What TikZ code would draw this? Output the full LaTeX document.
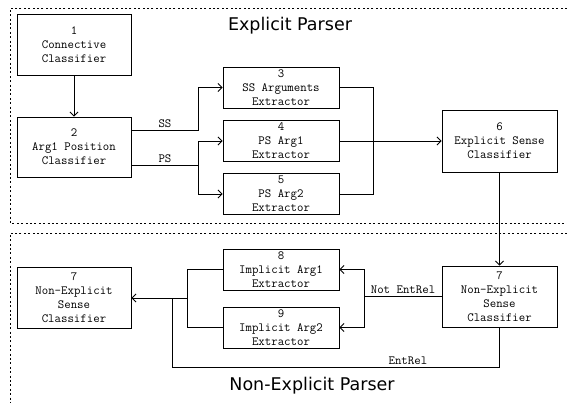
\documentclass[tikz,border=0pt]{standalone}
\usepackage{fontspec}
\newfontfamily\titlefont{DejaVu Sans}
\usepackage{tikz}
\usetikzlibrary{calc}
\usetikzlibrary{arrows.meta}
\usetikzlibrary{positioning}

\tikzset{
  box/.style={draw, line width=0.9pt, inner sep=0pt, align=center,
    font=\fontsize{12.5}{14}\selectfont\ttfamily},
  lbl/.style={font=\fontsize{12.5}{14}\selectfont\ttfamily, inner sep=2pt},
  ptitle/.style={font=\titlefont\fontsize{17.5}{20}\selectfont},
  frame/.style={line width=0.7pt, dash pattern=on 2pt off 2.4pt},
}

\begin{document}
\begin{tikzpicture}[x=1pt, y=-1pt, line cap=butt, line join=miter, >={Straight Barb[length=4pt,width=8pt]}, line width=0.9pt]
  \useasboundingbox (0,0) rectangle (567,403);
  %--- frames
    \draw[frame] (567,8) -- (10,8) -- (10,223) -- (567,223);
    \draw[frame] (567,233) -- (10,233) -- (10,403);
    \node[ptitle] (explicit) at (290,26) {Explicit Parser};
    \node[ptitle] (nonexplicit) at (312,386) {Non-Explicit Parser};
  %--- explicit parser boxes
    \node[box, minimum width=114, minimum height=61] (conn) at (74,44.5) {1\\Connective\\Classifier};
    \node[box, minimum width=114, minimum height=60] (argpos) at (74,147) {2\\Arg1 Position\\Classifier};
    \node[box, minimum width=116, minimum height=41] (ssarg) at (281,87.5) {3\\SS Arguments\\Extractor};
    \node[box, minimum width=116, minimum height=41] (psarg1) at (281,141) {4\\PS Arg1\\Extractor};
    \node[box, minimum width=116, minimum height=41] (psarg2) at (281,194) {5\\PS Arg2\\Extractor};
    \node[box, minimum width=115, minimum height=62] (expsense) at (499.5,141) {6\\Explicit Sense\\Classifier};
  %--- non-explicit parser boxes
    \node[box, minimum width=115, minimum height=61] (nonexp) at (499.5,296.5) {7\\Non-Explicit\\Sense\\Classifier};
    \node[box, minimum width=116, minimum height=41] (impl1) at (281,269.5) {8\\Implicit Arg1\\Extractor};
    \node[box, minimum width=116, minimum height=41] (impl2) at (281,327.5) {9\\Implicit Arg2\\Extractor};
    \node[box, minimum width=114, minimum height=61] (nonexpout) at (74,298) {7\\Non-Explicit\\Sense\\Classifier};
  %--- 1 -> 2
    \draw[->] (conn) -- (argpos);
  %--- SS
    \draw[->] ([yshift=17pt]argpos.east) -- node[lbl, above] {SS} ++(67,0) |- (ssarg.west);
  %--- PS
    \coordinate (psfork) at ([xshift=67pt,yshift=-18pt]argpos.east);
    \draw ([yshift=-18pt]argpos.east) -- node[lbl, above] {PS} (psfork);
    \draw[->] (psfork) |- (psarg1.west);
    \draw[->] (psfork) |- (psarg2.west);
  %--- merge to 6
    \coordinate (merge) at ([xshift=34pt]psarg1.east);
    \draw (ssarg.east) -| (merge);
    \draw (psarg2.east) -| (merge);
    \draw[->] (psarg1.east) -- (expsense.west);
  %--- 6 -> 7
    \draw[->] (expsense) -- (nonexp);
  %--- Not EntRel
    \coordinate (nfork) at ([xshift=-77pt]nonexp.west);
    \draw (nonexp.west) -- node[lbl, above] {Not EntRel} (nfork);
    \draw[->] (nfork) |- (impl1.east);
    \draw[->] (nfork) |- (impl2.east);
  %--- join to 7
    \coordinate (jfork) at ([xshift=-35pt]impl1.west |- nonexpout.east);
    \draw (impl1.west) -| (jfork);
    \draw (impl2.west) -| (jfork);
    \draw[->] (jfork) -- (nonexpout.east);
  %--- EntRel
    \draw (nonexp.south) -- ++(0,40) -| node[lbl, above, pos=0.14] {EntRel} ([xshift=41pt]nonexpout.east);
\end{tikzpicture}
\end{document}
